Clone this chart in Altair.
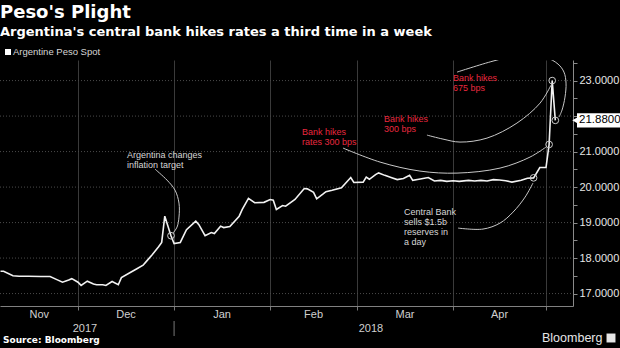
import altair as alt
import pandas as pd

# ---------------- data ----------------
dates = [
    "2017-11-06", "2017-11-07", "2017-11-10", "2017-11-12", "2017-11-15", "2017-11-19",
    "2017-11-22", "2017-11-24", "2017-11-26", "2017-11-28", "2017-11-29", "2017-12-01",
    "2017-12-02", "2017-12-04", "2017-12-06", "2017-12-07", "2017-12-09", "2017-12-10",
    "2017-12-12", "2017-12-14", "2017-12-15", "2017-12-18", "2017-12-20", "2017-12-22",
    "2017-12-23", "2017-12-25", "2017-12-27", "2017-12-28", "2017-12-29", "2017-12-31",
    "2018-01-01", "2018-01-03", "2018-01-05", "2018-01-08", "2018-01-09", "2018-01-11",
    "2018-01-13", "2018-01-14", "2018-01-16", "2018-01-17", "2018-01-19", "2018-01-22",
    "2018-01-23", "2018-01-25", "2018-01-27", "2018-01-30", "2018-02-01", "2018-02-02",
    "2018-02-03", "2018-02-05", "2018-02-06", "2018-02-09", "2018-02-12", "2018-02-13",
    "2018-02-15", "2018-02-16", "2018-02-18", "2018-02-19", "2018-02-21", "2018-02-24",
    "2018-02-27", "2018-02-28", "2018-03-03", "2018-03-04", "2018-03-05", "2018-03-07",
    "2018-03-08", "2018-03-10", "2018-03-12", "2018-03-14", "2018-03-16", "2018-03-18",
    "2018-03-19", "2018-03-21", "2018-03-24", "2018-03-26", "2018-03-28", "2018-03-30",
    "2018-04-01", "2018-04-03", "2018-04-06", "2018-04-08", "2018-04-10", "2018-04-12",
    "2018-04-14", "2018-04-16", "2018-04-18", "2018-04-20", "2018-04-23", "2018-04-25",
    "2018-04-27", "2018-04-29", "2018-05-01", "2018-05-02", "2018-05-03", "2018-05-04",
]
values = [
    17.63, 17.63, 17.50, 17.49, 17.49, 17.48,
    17.48, 17.40, 17.32, 17.38, 17.42, 17.32,
    17.23, 17.35, 17.27, 17.25, 17.25, 17.23,
    17.34, 17.25, 17.45, 17.60, 17.70, 17.80,
    17.90, 18.10, 18.32, 18.44, 19.18, 18.63,
    18.41, 18.44, 18.80, 19.04, 18.94, 18.63,
    18.72, 18.69, 18.90, 18.86, 18.89, 19.18,
    19.37, 19.68, 19.56, 19.57, 19.65, 19.63,
    19.37, 19.48, 19.46, 19.65, 19.96, 19.95,
    19.85, 19.67, 19.80, 19.87, 19.91, 19.98,
    20.27, 20.13, 20.14, 20.28, 20.22, 20.35,
    20.40, 20.33, 20.27, 20.21, 20.24, 20.33,
    20.19, 20.22, 20.27, 20.17, 20.19, 20.16,
    20.18, 20.16, 20.19, 20.17, 20.19, 20.17,
    20.21, 20.20, 20.18, 20.14, 20.19, 20.25,
    20.26, 20.55, 20.55, 21.20, 23.00, 21.88,
]

marker_dates = ["2017-12-31", "2018-04-27", "2018-05-02", "2018-05-03", "2018-05-04"]
marker_values = [18.63, 20.26, 21.20, 23.00, 21.88]

last_value = 21.88
last_label = "21.8800"

grid_values = [17, 18, 19, 20, 21, 22, 23]
tick_values = [17, 17.5, 18, 18.5, 19, 19.5, 20, 20.5, 21, 21.5, 22, 22.5, 23, 23.5]
labelled_values = [17, 18, 19, 20, 21, 23]   # 22 sits under the last-value badge

month_starts = [(2017, 12), (2018, 1), (2018, 2), (2018, 3), (2018, 4), (2018, 5)]
month_labels = ["Nov", "Dec", "Jan", "Feb", "Mar", "Apr"]
month_label_dates = ["2017-11-18T12:00", "2017-12-16T12:00", "2018-01-16T12:00",
                     "2018-02-15T00:00", "2018-03-16T12:00", "2018-04-16T00:00"]
year_labels = ["2017", "2018"]
year_label_dates = ["2017-12-03T06:00", "2018-03-05T12:00"]
year_separator_dates = ["2018-01-01T00:00"]

ann_texts = ["Argentina changes\ninflation target",
             "Central Bank\nsells $1.5b\nreserves in\na day",
             "Bank hikes\nrates 300 bps",
             "Bank hikes\n300 bps",
             "Bank hikes\n675 bps"]
ann_dates = ["2017-12-16T19:00", "2018-03-16T05:00", "2018-02-11T06:00",
             "2018-03-09T18:00", "2018-04-01T00:00"]
ann_values = [20.81, 19.21, 21.46, 21.83, 22.99]
ann_colors = ["#d6d6d6", "#d6d6d6", "#e8283f", "#e8283f", "#e8283f"]

# annotation connector curves (date, value)
inflation_curve_dates = ["2017-12-25T20:00", "2017-12-29T17:00", "2018-01-01T07:00",
                         "2018-01-02T14:00", "2018-01-02T14:00", "2018-01-01T23:00",
                         "2017-12-31T16:00"]
inflation_curve_values = [20.507, 20.197, 19.915, 19.549, 19.155, 18.873, 18.704]

reserves_curve_dates = ["2018-04-02T15:00", "2018-04-10T16:00", "2018-04-16T04:00",
                        "2018-04-20T09:00", "2018-04-24T06:00", "2018-04-26T19:00"]
reserves_curve_values = [18.845, 18.817, 18.986, 19.296, 19.718, 20.113]

rates300_curve_dates = ["2018-02-24T12:00", "2018-03-08T11:00", "2018-03-21T08:00",
                        "2018-04-02T07:00", "2018-04-16T04:00", "2018-04-25T20:00",
                        "2018-05-01T00:00"]
rates300_curve_values = [21.099, 20.704, 20.451, 20.394, 20.535, 20.845, 21.127]

hike300_curve_dates = ["2018-03-23T14:00", "2018-03-28T18:00", "2018-04-03T06:00",
                       "2018-04-11T23:00", "2018-04-21T15:00", "2018-04-29T02:00",
                       "2018-05-02T15:00"]
hike300_curve_values = [21.465, 21.352, 21.268, 21.380, 21.803, 22.366, 22.873]

hike675_curve_dates = ["2018-04-02T07:00", "2018-04-13T22:00", "2018-04-22T15:00",
                       "2018-04-30T16:00", "2018-05-04T21:00", "2018-05-06T19:00",
                       "2018-05-07T11:00", "2018-05-07T03:00", "2018-05-06T04:00",
                       "2018-05-05T05:00"]
hike675_curve_values = [23.239, 23.549, 23.718, 23.662, 23.465, 23.239,
                        22.930, 22.535, 22.169, 21.972]

# ---------------- frames ----------------
W, H = 573, 246
LABEL_FONT = "Liberation Sans"
TITLE_FONT = "DejaVu Sans"

line_df = pd.DataFrame({"date": [d + "T00:00" for d in dates], "value": values})
marker_df = pd.DataFrame({"date": [d + "T00:00" for d in marker_dates], "value": marker_values})
grid_df = pd.DataFrame({"value": grid_values})
month_df = pd.DataFrame({"date": month_label_dates, "label": month_labels})
year_df = pd.DataFrame({"date": year_label_dates, "label": year_labels})
sep_df = pd.DataFrame({"date": year_separator_dates})
ann_df = pd.DataFrame({"date": ann_dates, "value": ann_values, "text": ann_texts, "color": ann_colors})

curves = {
    "inflation": (inflation_curve_dates, inflation_curve_values),
    "reserves": (reserves_curve_dates, reserves_curve_values),
    "rates300": (rates300_curve_dates, rates300_curve_values),
    "hike300": (hike300_curve_dates, hike300_curve_values),
    "hike675": (hike675_curve_dates, hike675_curve_values),
}
rows = []
for name, (ds, vs) in curves.items():
    for i, (d, v) in enumerate(zip(ds, vs)):
        rows.append({"date": d, "value": v, "curve": name, "i": i})
curve_df = pd.DataFrame(rows)
one = pd.DataFrame({"a": [0]})

# ---------------- scales / axes ----------------
xscale = alt.Scale(domain=[alt.DateTime(year=2017, month=11, date=5, hours=20),
                           alt.DateTime(year=2018, month=5, date=9, hours=17)], nice=False)
yscale = alt.Scale(domain=[16.65, 23.58], nice=False, zero=False)

x_axis = alt.Axis(
    values=[alt.DateTime(year=y, month=m, date=1) for (y, m) in month_starts],
    labels=False, ticks=True, tickSize=4, tickColor="#777777",
    domainColor="#808080", grid=True, gridColor="#3a3a3a", gridWidth=1,
    title=None,
)
label_test = " || ".join(f"datum.value === {v}" for v in labelled_values)
y_axis = alt.Axis(
    orient="right", values=tick_values,
    labelExpr=f"({label_test}) ? format(datum.value, '.4f') : ''",
    grid=False, tickSize=4, tickColor="#8a8a8a", domainColor="#8a8a8a",
    labelColor="#e6e6e6", labelFont=LABEL_FONT, labelFontSize=11, labelPadding=2,
    labelOverlap=False, title=None,
)


def X():
    return alt.X("date:T", scale=xscale, axis=x_axis, title=None)


def Y():
    return alt.Y("value:Q", scale=yscale, axis=y_axis, title=None)


def YD(v):
    return alt.YDatum(v, scale=yscale, axis=y_axis, title=None)


# ---------------- layers ----------------
main = alt.Chart(line_df).mark_line(color="#f2f2f2", strokeWidth=1.6).encode(x=X(), y=Y())

hgrid = alt.Chart(grid_df).mark_rule(color="#4a4a4a", strokeDash=[1, 2], strokeWidth=1).encode(
    y=Y(), x=alt.value(0), x2=alt.value(W)
)

curve_layer = alt.Chart(curve_df).mark_line(
    color="#c8c8c8", strokeWidth=1, interpolate="catmull-rom", clip=True
).encode(x=X(), y=Y(), detail="curve:N", order="i:Q")

markers = alt.Chart(marker_df).mark_point(
    shape="circle", filled=False, size=45, color="#cccccc", strokeWidth=1, opacity=1
).encode(x=X(), y=Y())

ann = alt.Chart(ann_df).mark_text(
    align="left", baseline="alphabetic", font=LABEL_FONT, fontSize=9, lineBreak="\n", lineHeight=10
).encode(x=X(), y=Y(), text="text:N", color=alt.Color("color:N", scale=None))

month_text = alt.Chart(month_df).mark_text(
    align="center", baseline="alphabetic", font=LABEL_FONT, fontSize=11, color="#d0d0d0"
).encode(x=X(), y=alt.value(258), text="label:N")

year_text = alt.Chart(year_df).mark_text(
    align="center", baseline="alphabetic", font=LABEL_FONT, fontSize=11, color="#d0d0d0"
).encode(x=X(), y=alt.value(272), text="label:N")

year_sep = alt.Chart(sep_df).mark_rule(color="#777777", strokeWidth=1).encode(
    x=X(), y=alt.value(261), y2=alt.value(276)
)

badge_rect = alt.Chart(one).mark_rect(color="white").encode(
    x=alt.value(577), x2=alt.value(620), y=YD(last_value + 0.2), y2=alt.Y2Datum(last_value - 0.2)
)
badge_tri = alt.Chart(one).mark_point(shape="triangle-left", filled=True, size=40, color="white", opacity=1).encode(
    x=alt.value(575), y=YD(last_value)
)
badge_text = alt.Chart(one).mark_text(
    align="left", baseline="middle", font=LABEL_FONT, fontSize=11.5, color="black"
).encode(x=alt.value(579), y=YD(last_value), text=alt.value(last_label))

title = alt.Chart(one).mark_text(
    align="left", baseline="alphabetic", font=TITLE_FONT, fontSize=18, fontWeight="bold", color="white"
).encode(x=alt.value(0), y=alt.value(-42), text=alt.value("Peso's Plight"))
subtitle = alt.Chart(one).mark_text(
    align="left", baseline="alphabetic", font=TITLE_FONT, fontSize=13, fontWeight="bold", color="white"
).encode(x=alt.value(0), y=alt.value(-24), text=alt.value("Argentina's central bank hikes rates a third time in a week"))
legend_sq = alt.Chart(one).mark_point(shape="square", filled=True, size=36, color="white", opacity=1).encode(
    x=alt.value(8), y=alt.value(-8)
)
legend_txt = alt.Chart(one).mark_text(
    align="left", baseline="alphabetic", font=LABEL_FONT, fontSize=9.5, color="#d6d6d6"
).encode(x=alt.value(13), y=alt.value(-5), text=alt.value("Argentine Peso Spot"))
source = alt.Chart(one).mark_text(
    align="left", baseline="alphabetic", font=TITLE_FONT, fontSize=9, fontWeight="bold", color="white"
).encode(x=alt.value(3), y=alt.value(283), text=alt.value("Source: Bloomberg"))
logo = alt.Chart(one).mark_text(
    align="left", baseline="alphabetic", font=LABEL_FONT, fontSize=12.5, color="#e6e6e6"
).encode(x=alt.value(542), y=alt.value(282), text=alt.value("Bloomberg"))
logo_icon = alt.Chart(one).mark_point(shape="square", filled=True, size=80, color="#e6e6e6", opacity=1).encode(
    x=alt.value(611), y=alt.value(278)
)

chart = alt.layer(
    hgrid, main, curve_layer, markers, ann, month_text, year_text, year_sep,
    badge_rect, badge_tri, badge_text, title, subtitle, legend_sq, legend_txt,
    source, logo, logo_icon,
).properties(
    width=W, height=H,
    autosize=alt.AutoSizeParams(type="none"),
    padding={"left": 0, "top": 60, "right": 47, "bottom": 42},
    background="black",
).configure_view(stroke="transparent")

chart.save("out.html", embed_options={"renderer": "svg", "actions": False})
